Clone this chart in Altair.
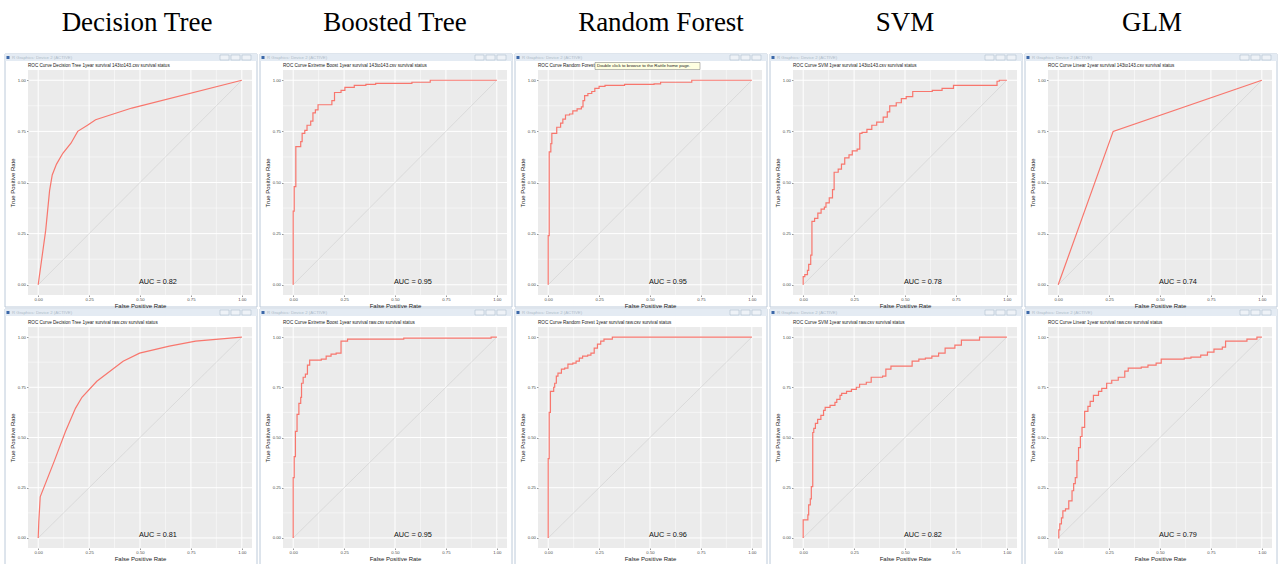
import altair as alt
import pandas as pd

# ---------------- data ----------------
HEADERS = ["Decision Tree", "Boosted Tree", "Random Forest", "SVM", "GLM"]
TITLES_TOP = [
    "ROC Curve Decision Tree 1year survival 143to143.csv survival status",
    "ROC Curve Extreme Boost 1year survival 143to143.csv survival status",
    "ROC Curve Random Forest",
    "ROC Curve SVM 1year survival 143to143.csv survival status",
    "ROC Curve Linear 1year survival 143to143.csv survival status",
]
TITLES_BOTTOM = [
    "ROC Curve Decision Tree 1year survival raw.csv survival status",
    "ROC Curve Extreme Boost 1year survival raw.csv survival status",
    "ROC Curve Random Forest 1year survival raw.csv survival status",
    "ROC Curve SVM 1year survival raw.csv survival status",
    "ROC Curve Linear 1year survival raw.csv survival status",
]
AUC_TOP = [0.82, 0.95, 0.95, 0.78, 0.74]
AUC_BOTTOM = [0.81, 0.95, 0.96, 0.82, 0.79]
TOOLTIP_TEXT = "Double click to browse to the Rattle home page."
WINDOW_TEXT = "R Graphics: Device 2 (ACTIVE)"

TICKS = [0.0, 0.25, 0.5, 0.75, 1.0]
MINOR = [0.125, 0.375, 0.625, 0.875]

# Decision tree, 143to143
dt_top_fpr = [0, 0.037, 0.056, 0.069, 0.09, 0.121, 0.161, 0.194, 0.242, 0.282, 0.46, 1]
dt_top_tpr = [0, 0.267, 0.46, 0.537, 0.59, 0.643, 0.692, 0.75, 0.78, 0.807, 0.864, 1]
# Boosted tree, 143to143
bt_top_fpr = [0, 0, 0.005, 0.013, 0.037, 0.044, 0.057, 0.068, 0.086, 0.097, 0.109, 0.122,
              0.19, 0.203, 0.235, 0.254, 0.30, 0.357, 0.405, 0.583, 0.673, 1.0]
bt_top_tpr = [0, 0.36, 0.48, 0.675, 0.70, 0.74, 0.755, 0.78, 0.80, 0.84, 0.855, 0.88,
              0.90, 0.94, 0.95, 0.965, 0.975, 0.98, 0.985, 0.99, 1.0, 1.0]
# Random forest, 143to143
rf_top_fpr = [0, 0, 0.005, 0.013, 0.018, 0.042, 0.061, 0.072, 0.085, 0.105, 0.121, 0.142,
              0.163, 0.171, 0.179, 0.195, 0.214, 0.229, 0.25, 0.279, 0.375, 0.52, 0.552, 0.705, 1]
rf_top_tpr = [0, 0.24, 0.65, 0.69, 0.74, 0.77, 0.79, 0.81, 0.83, 0.835, 0.85, 0.86,
              0.87, 0.90, 0.925, 0.935, 0.945, 0.96, 0.97, 0.975, 0.98, 0.982, 0.99, 1.0, 1]
# SVM, 143to143
svm_top_fpr = [0, 0, 0.008, 0.021, 0.027, 0.037, 0.043, 0.056, 0.072, 0.088, 0.104, 0.112,
               0.128, 0.144, 0.152, 0.172, 0.188, 0.204, 0.225, 0.241, 0.265, 0.278, 0.289,
               0.313, 0.337, 0.361, 0.393, 0.413, 0.425, 0.457, 0.482, 0.506, 0.538, 0.634,
               0.682, 0.738, 0.952, 0.963, 1]
svm_top_tpr = [0, 0.04, 0.05, 0.07, 0.10, 0.145, 0.31, 0.325, 0.35, 0.37, 0.38, 0.40,
               0.425, 0.465, 0.55, 0.565, 0.59, 0.62, 0.635, 0.655, 0.663, 0.74, 0.745,
               0.76, 0.78, 0.795, 0.82, 0.845, 0.875, 0.89, 0.91, 0.92, 0.945, 0.95,
               0.96, 0.975, 0.995, 1.0, 1]
# GLM, 143to143
glm_top_fpr = [0, 0.27, 1]
glm_top_tpr = [0, 0.75, 1]

# Decision tree, raw
dt_bot_fpr = [0, 0.003, 0.01, 0.078, 0.134, 0.183, 0.215, 0.288, 0.417, 0.498, 0.644, 0.773, 1]
dt_bot_tpr = [0, 0.08, 0.205, 0.38, 0.53, 0.645, 0.70, 0.78, 0.88, 0.92, 0.955, 0.98, 1]
# Boosted tree, raw
bt_bot_fpr = [0, 0, 0.005, 0.011, 0.019, 0.028, 0.037, 0.041, 0.049, 0.06, 0.07, 0.081,
              0.138, 0.162, 0.186, 0.211, 0.235, 0.267, 0.543, 0.972, 1]
bt_bot_tpr = [0, 0.30, 0.405, 0.53, 0.615, 0.67, 0.70, 0.77, 0.80, 0.815, 0.86, 0.885,
              0.89, 0.905, 0.915, 0.92, 0.98, 0.99, 0.995, 1.0, 1]
# Random forest, raw
rf_bot_fpr = [0, 0, 0.005, 0.011, 0.027, 0.032, 0.04, 0.048, 0.065, 0.081, 0.097, 0.121,
              0.137, 0.153, 0.169, 0.194, 0.21, 0.226, 0.242, 0.258, 0.274, 0.315, 1]
rf_bot_tpr = [0, 0.395, 0.625, 0.73, 0.75, 0.77, 0.805, 0.82, 0.84, 0.845, 0.865, 0.87,
              0.88, 0.895, 0.905, 0.91, 0.92, 0.945, 0.965, 0.98, 0.99, 1.0, 1]
# SVM, raw
svm_bot_fpr = [0, 0, 0.023, 0.027, 0.035, 0.04, 0.047, 0.052, 0.06, 0.071, 0.087, 0.1,
               0.108, 0.132, 0.156, 0.165, 0.181, 0.189, 0.213, 0.237, 0.261, 0.277, 0.31,
               0.334, 0.39, 0.406, 0.431, 0.535, 0.568, 0.6, 0.632, 0.665, 0.697, 0.745,
               0.777, 0.866, 1]
svm_bot_tpr = [0, 0.09, 0.115, 0.165, 0.195, 0.255, 0.525, 0.545, 0.57, 0.59, 0.61, 0.635,
               0.65, 0.66, 0.675, 0.69, 0.71, 0.72, 0.73, 0.74, 0.75, 0.765, 0.775,
               0.80, 0.805, 0.84, 0.855, 0.88, 0.89, 0.895, 0.905, 0.92, 0.945, 0.96,
               0.985, 1.0, 1]
# GLM, raw
glm_bot_fpr = [0, 0.003, 0.008, 0.016, 0.023, 0.036, 0.052, 0.068, 0.076, 0.084, 0.092, 0.1,
               0.109, 0.117, 0.13, 0.146, 0.157, 0.173, 0.198, 0.214, 0.238, 0.263, 0.295,
               0.327, 0.344, 0.408, 0.441, 0.481, 0.506, 0.619, 0.652, 0.7, 0.733, 0.765,
               0.806, 0.822, 0.927, 0.976, 1]
glm_bot_tpr = [0, 0.04, 0.07, 0.10, 0.135, 0.145, 0.185, 0.235, 0.27, 0.30, 0.385, 0.45,
               0.505, 0.55, 0.63, 0.655, 0.68, 0.71, 0.73, 0.745, 0.77, 0.785, 0.80,
               0.83, 0.845, 0.85, 0.86, 0.87, 0.89, 0.895, 0.90, 0.91, 0.925, 0.94,
               0.95, 0.98, 0.99, 1.0, 1]

TOP_CURVES = [(dt_top_fpr, dt_top_tpr, "linear"), (bt_top_fpr, bt_top_tpr, "step-after"),
              (rf_top_fpr, rf_top_tpr, "step-after"), (svm_top_fpr, svm_top_tpr, "step-after"),
              (glm_top_fpr, glm_top_tpr, "linear")]
BOT_CURVES = [(dt_bot_fpr, dt_bot_tpr, "linear"), (bt_bot_fpr, bt_bot_tpr, "step-after"),
              (rf_bot_fpr, rf_bot_tpr, "step-after"), (svm_bot_fpr, svm_bot_tpr, "step-after"),
              (glm_bot_fpr, glm_bot_tpr, "step-after")]

# ---------------- styling / layout ----------------
W = 224
H_TOP, H_BOT = 225, 221
SANS = "Liberation Sans"
SERIF = "Liberation Serif"
HEADER_DX = [109, 112, 123, 112, 104]
RED = "#F8766D"

XS = alt.Scale(domain=[-0.05, 1.05], nice=False, zero=False)
YS = alt.Scale(domain=[-0.05, 1.05], nice=False, zero=False)
axis_common = dict(values=TICKS, format=".2f", grid=False, domain=False, tickSize=1.5,
                   tickColor="#333333", tickWidth=0.5, labelFontSize=4.3, labelColor="#4D4D4D",
                   labelPadding=1, labelFlush=False, titleFontSize=6, titleFontWeight="normal",
                   titleColor="#1A1A1A", labelFont=SANS, titleFont=SANS, zindex=1)
XAX = alt.Axis(title="False Positive Rate", titlePadding=0.5, **axis_common)
YAX = alt.Axis(title="True Positive Rate", titlePadding=1.5, labelAngle=0, **axis_common)

ONE = pd.DataFrame({"k": [0]})


def xenc(f):
    return alt.X(f, type="quantitative", scale=XS, axis=XAX)


def yenc(f):
    return alt.Y(f, type="quantitative", scale=YS, axis=YAX)


def vrect(x1, x2, y1, y2, **kw):
    return alt.Chart(ONE).mark_rect(**kw).encode(
        x=alt.value(x1), x2=alt.value(x2), y=alt.value(y1), y2=alt.value(y2))


def panel(fpr, tpr, interp, title, auc, H, row, col):
    layers = []
    if row == 0 and col == 0:
        # anchors the page origin
        layers.append(vrect(-28, -27, -70, -69, fill="white"))
    # window chrome
    bar_top = -15 if row == 0 else -17
    win_bottom = H + 12 if row == 0 else H + 20
    layers.append(vrect(-23, W + 5, bar_top - 1, win_bottom, fill="transparent",
                        stroke="#BCCADA", strokeWidth=1))
    layers.append(vrect(-23, W + 5, bar_top - 1, bar_top + 6, fill="#E4EBF3"))
    layers.append(vrect(-21.5, -18.5, bar_top + 1, bar_top + 4, fill="#3B67A8"))
    layers.append(alt.Chart(ONE).mark_text(text=WINDOW_TEXT, font=SANS, fontSize=4.3,
                                           color="#AEBBC9", align="left", baseline="middle")
                  .encode(x=alt.value(-16), y=alt.value(bar_top + 2.5)))
    for bx in (W - 32, W - 21, W - 10):
        layers.append(vrect(bx, bx + 9, bar_top, bar_top + 5, fill="#EEF2F7",
                            stroke="#A7B4C4", strokeWidth=0.5))

    grid_minor = pd.DataFrame({"g": MINOR})
    grid_major = pd.DataFrame({"g": TICKS})
    layers += [
        alt.Chart(grid_minor).mark_rule(color="white", strokeWidth=0.5).encode(x=xenc("g")),
        alt.Chart(grid_minor).mark_rule(color="white", strokeWidth=0.5).encode(y=yenc("g")),
        alt.Chart(grid_major).mark_rule(color="white", strokeWidth=1).encode(x=xenc("g")),
        alt.Chart(grid_major).mark_rule(color="white", strokeWidth=1).encode(y=yenc("g")),
    ]
    diag = pd.DataFrame({"fpr": [0, 1], "tpr": [0, 1]})
    layers.append(alt.Chart(diag).mark_line(color="#C8C8C8", strokeWidth=0.5)
                  .encode(x=xenc("fpr"), y=yenc("tpr")))
    df = pd.DataFrame({"fpr": fpr, "tpr": tpr, "i": list(range(len(fpr)))})
    layers.append(alt.Chart(df).mark_line(color=RED, strokeWidth=1.2, interpolate=interp)
                  .encode(x=xenc("fpr"), y=yenc("tpr"), order=alt.Order("i:Q")))
    auc_df = pd.DataFrame({"fpr": [0.495], "tpr": [0.015], "lab": [f"AUC = {auc:.2f}"]})
    layers.append(alt.Chart(auc_df).mark_text(font=SANS, fontSize=7.3, align="left",
                                              baseline="middle", color="#111111")
                  .encode(x=xenc("fpr"), y=yenc("tpr"), text="lab:N"))
    layers.append(alt.Chart(ONE).mark_text(text=title, font=SANS, fontSize=4.6, color="#1A1A1A",
                                           align="left", baseline="alphabetic")
                  .encode(x=alt.value(0), y=alt.value(-3.5)))
    if row == 0:
        layers.append(alt.Chart(ONE).mark_text(text=HEADERS[col], font=SERIF, fontSize=27,
                                               color="black", align="center",
                                               baseline="alphabetic")
                      .encode(x=alt.value(HEADER_DX[col]), y=alt.value(-39)))
    if row == 0 and col == 2:
        layers.append(vrect(57, 162, -7.5, -0.5, fill="#FFFFE1", stroke="#767676",
                            strokeWidth=0.5))
        layers.append(alt.Chart(ONE).mark_text(text=TOOLTIP_TEXT, font=SANS, fontSize=4.4,
                                               color="#222222", align="left", baseline="middle")
                      .encode(x=alt.value(59), y=alt.value(-4)))
    return alt.layer(*layers).properties(width=W, height=H)


panels = []
for c, (f, t, it) in enumerate(TOP_CURVES):
    panels.append(panel(f, t, it, TITLES_TOP[c], AUC_TOP[c], H_TOP, 0, c))
for c, (f, t, it) in enumerate(BOT_CURVES):
    panels.append(panel(f, t, it, TITLES_BOTTOM[c], AUC_BOTTOM[c], H_BOT, 1, c))

chart = alt.concat(*panels, columns=5, spacing={"row": 32, "column": 31}, bounds="flush") \
    .properties(padding=0, background="white") \
    .configure_view(fill="#EBEBEB", strokeWidth=0)

chart.save("out.html", embed_options={"renderer": "svg", "actions": False})
